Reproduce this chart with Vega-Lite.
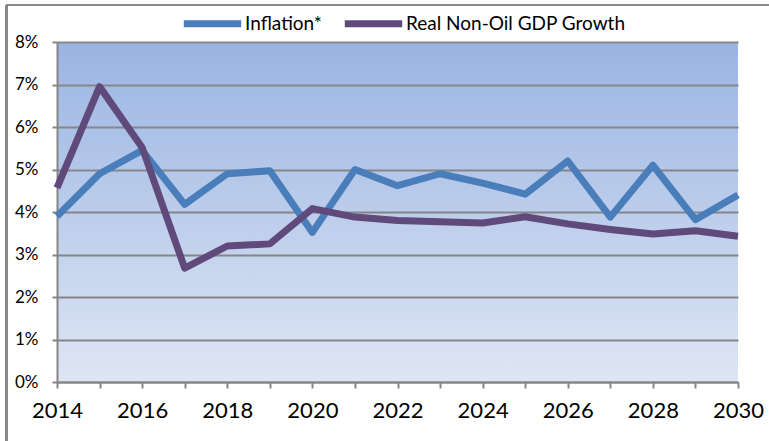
{
  "$schema": "https://vega.github.io/schema/vega-lite/v6.json",
  "autosize": "none",
  "width": 681,
  "height": 340,
  "padding": {"left": 57, "top": 42, "right": 31, "bottom": 59},
  "background": "white",
  "config": {
    "view": {
      "stroke": null,
      "fill": {"gradient": "linear", "x1": 0, "y1": 0, "x2": 0, "y2": 1,
        "stops": [{"offset": 0, "color": "#9AB4E2"}, {"offset": 1, "color": "#DEE6F4"}]}
    },
    "font": "Lato"
  },
  "data": {
    "values": [
      {"year": 2014, "series": "Inflation*", "value": 3.9},
      {"year": 2015, "series": "Inflation*", "value": 4.9},
      {"year": 2016, "series": "Inflation*", "value": 5.45},
      {"year": 2017, "series": "Inflation*", "value": 4.18},
      {"year": 2018, "series": "Inflation*", "value": 4.9},
      {"year": 2019, "series": "Inflation*", "value": 4.97},
      {"year": 2020, "series": "Inflation*", "value": 3.52},
      {"year": 2021, "series": "Inflation*", "value": 5.0},
      {"year": 2022, "series": "Inflation*", "value": 4.62},
      {"year": 2023, "series": "Inflation*", "value": 4.9},
      {"year": 2024, "series": "Inflation*", "value": 4.68},
      {"year": 2025, "series": "Inflation*", "value": 4.42},
      {"year": 2026, "series": "Inflation*", "value": 5.2},
      {"year": 2027, "series": "Inflation*", "value": 3.88},
      {"year": 2028, "series": "Inflation*", "value": 5.1},
      {"year": 2029, "series": "Inflation*", "value": 3.82},
      {"year": 2030, "series": "Inflation*", "value": 4.4},
      {"year": 2014, "series": "Real Non-Oil GDP Growth", "value": 4.57},
      {"year": 2015, "series": "Real Non-Oil GDP Growth", "value": 6.95},
      {"year": 2016, "series": "Real Non-Oil GDP Growth", "value": 5.52},
      {"year": 2017, "series": "Real Non-Oil GDP Growth", "value": 2.68},
      {"year": 2018, "series": "Real Non-Oil GDP Growth", "value": 3.2},
      {"year": 2019, "series": "Real Non-Oil GDP Growth", "value": 3.25},
      {"year": 2020, "series": "Real Non-Oil GDP Growth", "value": 4.08},
      {"year": 2021, "series": "Real Non-Oil GDP Growth", "value": 3.88},
      {"year": 2022, "series": "Real Non-Oil GDP Growth", "value": 3.8},
      {"year": 2023, "series": "Real Non-Oil GDP Growth", "value": 3.77},
      {"year": 2024, "series": "Real Non-Oil GDP Growth", "value": 3.74},
      {"year": 2025, "series": "Real Non-Oil GDP Growth", "value": 3.89},
      {"year": 2026, "series": "Real Non-Oil GDP Growth", "value": 3.72},
      {"year": 2027, "series": "Real Non-Oil GDP Growth", "value": 3.59},
      {"year": 2028, "series": "Real Non-Oil GDP Growth", "value": 3.48},
      {"year": 2029, "series": "Real Non-Oil GDP Growth", "value": 3.56},
      {"year": 2030, "series": "Real Non-Oil GDP Growth", "value": 3.43}
    ]
  },
  "layer": [
    {
      "mark": {"type": "line", "strokeWidth": 7, "strokeJoin": "round", "strokeCap": "butt"},
      "encoding": {
        "x": {
          "field": "year", "type": "quantitative",
          "scale": {"domain": [2014, 2030], "nice": false, "zero": false},
          "axis": {
            "title": null, "grid": false,
            "values": [2014,2015,2016,2017,2018,2019,2020,2021,2022,2023,2024,2025,2026,2027,2028,2029,2030],
            "labelExpr": "datum.value % 2 == 0 ? datum.value : ''",
            "domainColor": "#868686", "domainWidth": 2,
            "tickColor": "#868686", "tickWidth": 2, "tickSize": 6,
            "labelFontSize": 22, "labelColor": "#000000", "labelPadding": 12,
            "labelFlush": false, "labelOverlap": false
          }
        },
        "y": {
          "field": "value", "type": "quantitative",
          "scale": {"domain": [0, 8], "nice": false},
          "axis": {
            "title": null,
            "values": [0,1,2,3,4,5,6,7,8],
            "labelExpr": "datum.value + '%'",
            "gridColor": "#868686", "gridWidth": 2,
            "domainColor": "#868686", "domainWidth": 2,
            "tickColor": "#868686", "tickWidth": 2, "tickSize": 5,
            "labelFontSize": 17, "labelColor": "#000000", "labelPadding": 14
          }
        },
        "color": {
          "field": "series", "type": "nominal",
          "scale": {"domain": ["Inflation*", "Real Non-Oil GDP Growth"], "range": ["#4A7EBB", "#5F4A7B"]},
          "legend": {
            "title": null, "orient": "none", "direction": "horizontal",
            "legendX": 123, "legendY": -51,
            "symbolType": "stroke", "symbolStrokeWidth": 7, "symbolSize": 3300,
            "labelFontSize": 19, "labelColor": "#000000", "labelOffset": 0,
            "labelLimit": 400, "columnPadding": 8
          }
        }
      }
    },
    {
      "mark": {"type": "rule", "color": "#8A8A8A", "strokeWidth": 2, "clip": false},
      "encoding": {
        "x": {"datum": 2012.82},
        "x2": {"datum": 2031.5},
        "y": {"datum": 8.87}
      }
    },
    {
      "mark": {"type": "rule", "color": "#8A8A8A", "strokeWidth": 2, "clip": false},
      "encoding": {
        "x": {"datum": 2012.82},
        "y": {"datum": -2},
        "y2": {"datum": 8.87}
      }
    }
  ]
}
